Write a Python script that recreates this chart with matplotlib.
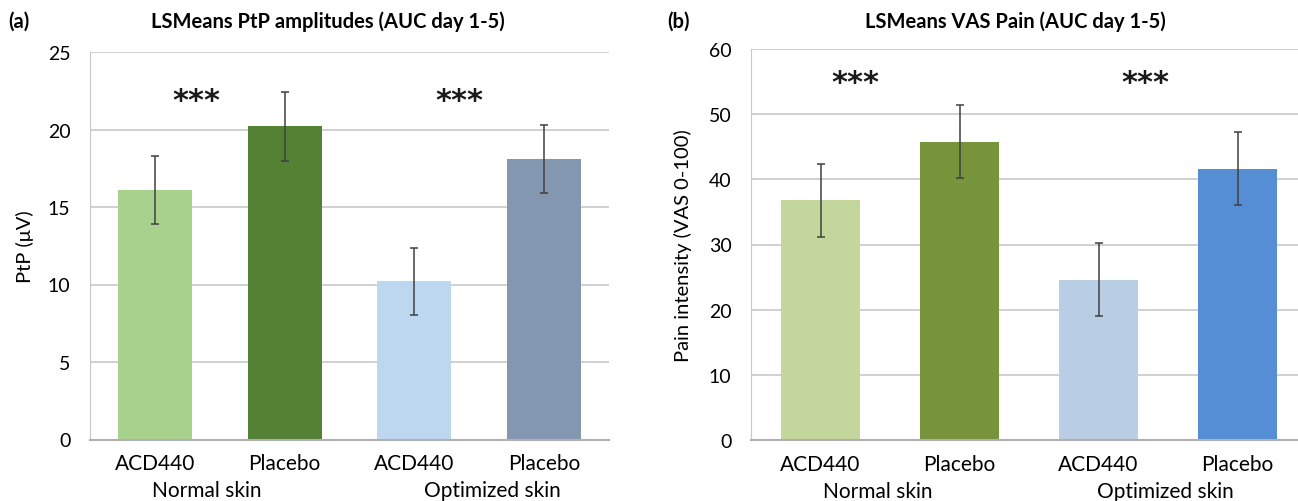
import numpy as np
import matplotlib
matplotlib.use('Agg')
import matplotlib.pyplot as plt

plt.rcParams['font.family'] = ['Lato', 'DejaVu Sans']

# --- dados ---
tratamentos = ['ACD440', 'Placebo', 'ACD440', 'Placebo']
grupos = ['Normal skin', 'Optimized skin']

ptp_media = [16.1, 20.2, 10.2, 18.1]
ptp_erro = [2.2, 2.2, 2.15, 2.2]

vas_media = [36.8, 45.8, 24.6, 41.6]
vas_erro = [5.6, 5.6, 5.6, 5.6]

cores_a = ['#A9D18E', '#548235', '#BDD7EE', '#8497B0']
cores_b = ['#C3D69B', '#77933C', '#B9CDE5', '#558ED5']

W, H = 1298, 502
fig = plt.figure(figsize=(W / 100, H / 100), dpi=100)


def px_axes(x0, x1, y0, y1):
    # converte pixels (origem no topo) para coordenadas da figura
    return fig.add_axes([x0 / W, 1 - y1 / H, (x1 - x0) / W, (y1 - y0) / H])


def painel(ax, medias, erros, cores, ymax, passo, estrelas, estrela_y, grupo_x):
    x = np.arange(len(medias))
    ax.set_axisbelow(True)
    ax.yaxis.grid(True, color='#C8C8C8', linewidth=1.2)
    ax.bar(x, medias, width=0.57, color=cores, zorder=2)
    ax.errorbar(x, medias, yerr=erros, fmt='none', ecolor='#404040',
                elinewidth=1.1, capsize=3, capthick=1.1, zorder=3)
    ax.set_xlim(-0.5, 3.5)
    ax.set_ylim(0, ymax)
    ax.set_yticks(np.arange(0, ymax + 1, passo))
    ax.set_xticks(x)
    ax.set_xticklabels(tratamentos, fontsize=15)
    ax.tick_params(axis='y', labelsize=14, length=0, pad=14)
    ax.tick_params(axis='x', length=0, pad=10)
    for s in ['top', 'right']:
        ax.spines[s].set_visible(False)
    ax.spines['left'].set_color('#C8C8C8')
    ax.spines['bottom'].set_color('#B0B0B0')
    ax.spines['bottom'].set_linewidth(1.5)
    for xs in estrelas:
        ax.text(xs, estrela_y, '***', ha='center', va='center', fontsize=22,
                family='DejaVu Sans', fontweight='bold', color='#1a1a1a')
    for gx, g in zip(grupo_x, grupos):
        ax.text(gx, -0.13, g, transform=ax.get_xaxis_transform(),
                ha='center', va='center', fontsize=15)


# (a) PtP
ax1 = px_axes(90, 609, 53, 440.5)
painel(ax1, ptp_media, ptp_erro, cores_a, 25, 5, [0.32, 2.35], 21.9, [0.4, 2.6])
ax1.set_ylabel('PtP (\u03bcV)', fontsize=14.5, labelpad=10)

# (b) VAS
ax2 = px_axes(751, 1307, 50, 441)
painel(ax2, vas_media, vas_erro, cores_b, 60, 10, [0.25, 2.34], 54.8, [0.41, 2.48])
ax2.set_ylabel('Pain intensity (VAS 0-100)', fontsize=14.5, labelpad=12)

fig.text(328 / W, 1 - 22 / H, 'LSMeans PtP amplitudes (AUC day 1-5)',
         ha='center', va='center', fontsize=14.5, fontweight='bold')
fig.text(1015 / W, 1 - 22 / H, 'LSMeans VAS Pain (AUC day 1-5)',
         ha='center', va='center', fontsize=14.5, fontweight='bold')
fig.text(8 / W, 1 - 22 / H, '(a)', ha='left', va='center', fontsize=14.5, fontweight='bold')
fig.text(667 / W, 1 - 22 / H, '(b)', ha='left', va='center', fontsize=14.5, fontweight='bold')

fig.savefig('out.png', dpi=100)
